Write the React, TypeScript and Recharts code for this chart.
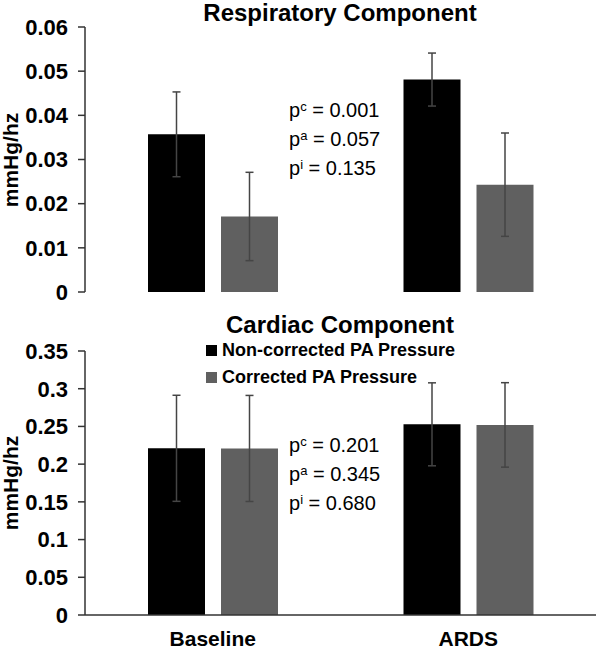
import React from 'react';
import { BarChart, Bar, XAxis, YAxis, ErrorBar } from 'recharts';

const categories = ['Baseline', 'ARDS'];
const seriesNames = ['Non-corrected PA Pressure', 'Corrected PA Pressure'];
const seriesColors = ['#000000', '#606060'];

// Respiratory component (mmHg/hz)
const respNonCorrected = [0.0357, 0.0481];
const respNonCorrectedErr = [0.0096, 0.006];
const respCorrected = [0.0171, 0.0243];
const respCorrectedErr = [0.01, 0.0117];
const respTicks = [0, 0.01, 0.02, 0.03, 0.04, 0.05, 0.06];
const respPValues = [
  ['c', '0.001'],
  ['a', '0.057'],
  ['i', '0.135'],
];

// Cardiac component (mmHg/hz)
const cardNonCorrected = [0.221, 0.2528];
const cardNonCorrectedErr = [0.0703, 0.055];
const cardCorrected = [0.2208, 0.252];
const cardCorrectedErr = [0.0703, 0.056];
const cardTicks = [0, 0.05, 0.1, 0.15, 0.2, 0.25, 0.3, 0.35];
const cardPValues = [
  ['c', '0.201'],
  ['a', '0.345'],
  ['i', '0.680'],
];

const FONT = '"Liberation Sans", Arial, sans-serif';
const ERR_COLOR = '#454545';
const AXIS_COLOR = '#333';

const buildRows = (a: number[], aErr: number[], b: number[], bErr: number[]) =>
  categories.map((name, i) => ({ name, a: a[i], aErr: aErr[i], b: b[i], bErr: bErr[i] }));

const respData = buildRows(respNonCorrected, respNonCorrectedErr, respCorrected, respCorrectedErr);
const cardData = buildRows(cardNonCorrected, cardNonCorrectedErr, cardCorrected, cardCorrectedErr);

const yTickStyle = { fontSize: 22, fontWeight: 'bold', fill: '#000', fontFamily: FONT };
const xTickStyle = { fontSize: 21, fontWeight: 'bold', fill: '#000', fontFamily: FONT };

const PValues: React.FC<{ values: string[][]; top: number }> = ({ values, top }) => (
  <div style={{ position: 'absolute', left: 289, top, fontFamily: FONT, fontSize: 20, lineHeight: '25px', color: '#000' }}>
    {values.map(([k, v]) => (
      <div key={k}>
        p<sup style={{ fontSize: 13, verticalAlign: 6 }}>{k}</sup> = {v}
      </div>
    ))}
  </div>
);

const Title: React.FC<{ text: string; top: number }> = ({ text, top }) => (
  <div style={{ position: 'absolute', left: 190, width: 300, top, textAlign: 'center', fontFamily: FONT, fontWeight: 'bold', fontSize: 24, lineHeight: '28px', color: '#000', whiteSpace: 'nowrap' }}>
    {text}
  </div>
);

const UnitLabel: React.FC<{ centerY: number }> = ({ centerY }) => (
  <div style={{ position: 'absolute', left: 11, top: centerY, transform: 'translate(-50%, -50%) rotate(-90deg)', fontFamily: FONT, fontWeight: 'bold', fontSize: 21, lineHeight: '20px', color: '#000', whiteSpace: 'nowrap' }}>
    mmHg/hz
  </div>
);

const Series = () => [
  <Bar key="a" dataKey="a" fill={seriesColors[0]} isAnimationActive={false}>
    <ErrorBar dataKey="aErr" direction="y" width={4} stroke={ERR_COLOR} strokeWidth={1.5} />
  </Bar>,
  <Bar key="b" dataKey="b" fill={seriesColors[1]} isAnimationActive={false}>
    <ErrorBar dataKey="bErr" direction="y" width={4} stroke={ERR_COLOR} strokeWidth={1.5} />
  </Bar>,
];

export default function App() {
  return (
    <div style={{ position: 'absolute', left: 0, top: 0, width: 597, height: 649, background: '#fff', overflow: 'hidden' }}>
      {/* Respiratory panel; extra bottom margin keeps the "0" label inside the svg */}
      <div style={{ position: 'absolute', left: 0, top: 0 }}>
        <BarChart width={597} height={312} data={respData} margin={{ top: 27, right: 1, bottom: 20, left: 0 }} barSize={57} barGap={16}>
          <XAxis dataKey="name" hide />
          <YAxis
            width={85}
            domain={[0, 0.06]}
            ticks={respTicks}
            interval={0}
            tick={yTickStyle}
            tickSize={7}
            tickMargin={10}
            axisLine={{ stroke: AXIS_COLOR, strokeWidth: 1.5 }}
            tickLine={{ stroke: AXIS_COLOR, strokeWidth: 1.5 }}
          />
          {Series()}
        </BarChart>
      </div>

      {/* Cardiac panel */}
      <div style={{ position: 'absolute', left: 0, top: 300 }}>
        <BarChart width={597} height={349} data={cardData} margin={{ top: 51, right: 1, bottom: 4, left: 0 }} barSize={57} barGap={16}>
          <XAxis
            dataKey="name"
            height={30}
            tick={xTickStyle}
            tickLine={false}
            tickMargin={10}
            axisLine={{ stroke: AXIS_COLOR, strokeWidth: 1.5 }}
          />
          <YAxis
            width={85}
            domain={[0, 0.35]}
            ticks={cardTicks}
            interval={0}
            tick={yTickStyle}
            tickSize={7}
            tickMargin={10}
            axisLine={{ stroke: AXIS_COLOR, strokeWidth: 1.5 }}
            tickLine={{ stroke: AXIS_COLOR, strokeWidth: 1.5 }}
          />
          {Series()}
        </BarChart>
      </div>

      <Title text="Respiratory Component" top={-1} />
      <Title text="Cardiac Component" top={311} />
      <UnitLabel centerY={160} />
      <UnitLabel centerY={483} />
      <PValues values={respPValues} top={94} />
      <PValues values={cardPValues} top={429} />

      {/* Legend */}
      <div style={{ position: 'absolute', left: 206, top: 337, fontFamily: FONT, fontWeight: 'bold', fontSize: 18, color: '#000' }}>
        {seriesNames.map((name, i) => (
          <div key={name} style={{ display: 'flex', alignItems: 'center', height: 27 }}>
            <span style={{ display: 'inline-block', width: 11, height: 11, background: seriesColors[i], marginRight: 5 }} />
            {name}
          </div>
        ))}
      </div>
    </div>
  );
}
